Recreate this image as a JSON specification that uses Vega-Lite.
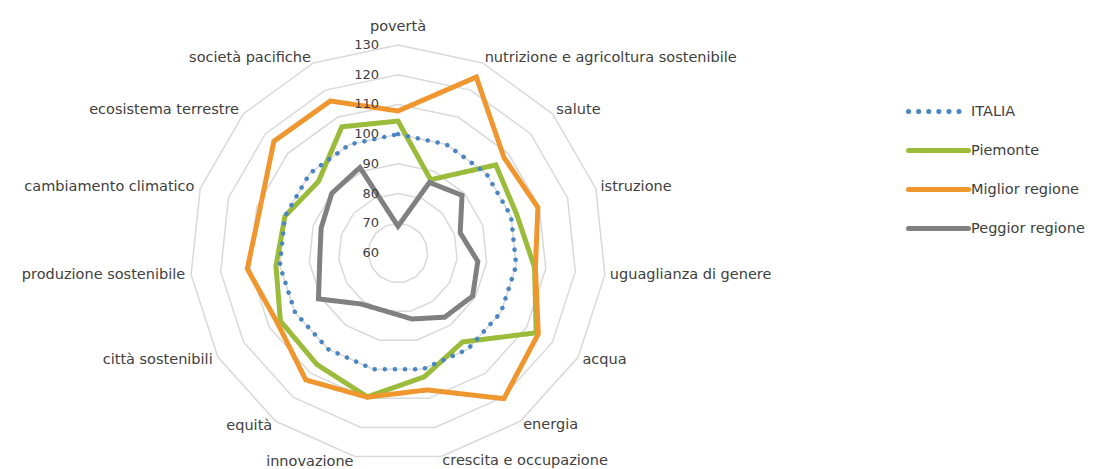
{
  "$schema": "https://vega.github.io/schema/vega-lite/v6.json",
  "width": 1093,
  "height": 469,
  "autosize": {"type": "none"},
  "padding": 0,
  "background": "white",
  "config": {
    "view": {"stroke": null},
    "font": "DejaVu Sans",
    "legend": {"labelFont": "DejaVu Sans"}
  },
  "datasets": {
    "axes": [
      {"a": "povertà", "i": 0},
      {"a": "nutrizione e agricoltura sostenibile", "i": 1},
      {"a": "salute", "i": 2},
      {"a": "istruzione", "i": 3},
      {"a": "uguaglianza di genere", "i": 4},
      {"a": "acqua", "i": 5},
      {"a": "energia", "i": 6},
      {"a": "crescita  e occupazione", "i": 7},
      {"a": "innovazione", "i": 8},
      {"a": "equità", "i": 9},
      {"a": "città sostenibili", "i": 10},
      {"a": "produzione sostenibile", "i": 11},
      {"a": "cambiamento climatico", "i": 12},
      {"a": "ecosistema terrestre", "i": 13},
      {"a": "società pacifiche", "i": 14}
    ],
    "ticks": [
      {"lv": 60}, {"lv": 70}, {"lv": 80}, {"lv": 90}, {"lv": 100}, {"lv": 110}, {"lv": 120}, {"lv": 130}
    ],
    "series": [
      {"s": "ITALIA", "a": "povertà", "v": 100},
      {"s": "ITALIA", "a": "nutrizione e agricoltura sostenibile", "v": 100},
      {"s": "ITALIA", "a": "salute", "v": 100},
      {"s": "ITALIA", "a": "istruzione", "v": 100},
      {"s": "ITALIA", "a": "uguaglianza di genere", "v": 100},
      {"s": "ITALIA", "a": "acqua", "v": 100},
      {"s": "ITALIA", "a": "energia", "v": 100},
      {"s": "ITALIA", "a": "crescita  e occupazione", "v": 100},
      {"s": "ITALIA", "a": "innovazione", "v": 100},
      {"s": "ITALIA", "a": "equità", "v": 100},
      {"s": "ITALIA", "a": "città sostenibili", "v": 100},
      {"s": "ITALIA", "a": "produzione sostenibile", "v": 100},
      {"s": "ITALIA", "a": "cambiamento climatico", "v": 100},
      {"s": "ITALIA", "a": "ecosistema terrestre", "v": 100},
      {"s": "ITALIA", "a": "società pacifiche", "v": 100},

      {"s": "Piemonte", "a": "povertà", "v": 104.4},
      {"s": "Piemonte", "a": "nutrizione e agricoltura sostenibile", "v": 87},
      {"s": "Piemonte", "a": "salute", "v": 104.3},
      {"s": "Piemonte", "a": "istruzione", "v": 102},
      {"s": "Piemonte", "a": "uguaglianza di genere", "v": 106.2},
      {"s": "Piemonte", "a": "acqua", "v": 113.7},
      {"s": "Piemonte", "a": "energia", "v": 97},
      {"s": "Piemonte", "a": "crescita  e occupazione", "v": 102.6},
      {"s": "Piemonte", "a": "innovazione", "v": 109.5},
      {"s": "Piemonte", "a": "equità", "v": 106.4},
      {"s": "Piemonte", "a": "città sostenibili", "v": 105.7},
      {"s": "Piemonte", "a": "produzione sostenibile", "v": 101.3},
      {"s": "Piemonte", "a": "cambiamento climatico", "v": 100},
      {"s": "Piemonte", "a": "ecosistema terrestre", "v": 96},
      {"s": "Piemonte", "a": "società pacifiche", "v": 106.5},

      {"s": "Miglior regione", "a": "povertà", "v": 107.8},
      {"s": "Miglior regione", "a": "nutrizione e agricoltura sostenibile", "v": 124.8},
      {"s": "Miglior regione", "a": "salute", "v": 108},
      {"s": "Miglior regione", "a": "istruzione", "v": 109.5},
      {"s": "Miglior regione", "a": "uguaglianza di genere", "v": 106.5},
      {"s": "Miglior regione", "a": "acqua", "v": 114.5},
      {"s": "Miglior regione", "a": "energia", "v": 120.6},
      {"s": "Miglior regione", "a": "crescita  e occupazione", "v": 107.1},
      {"s": "Miglior regione", "a": "innovazione", "v": 109.6},
      {"s": "Miglior regione", "a": "equità", "v": 112.8},
      {"s": "Miglior regione", "a": "città sostenibili", "v": 106.9},
      {"s": "Miglior regione", "a": "produzione sostenibile", "v": 111},
      {"s": "Miglior regione", "a": "cambiamento climatico", "v": 108.8},
      {"s": "Miglior regione", "a": "ecosistema terrestre", "v": 116.2},
      {"s": "Miglior regione", "a": "società pacifiche", "v": 116},

      {"s": "Peggior regione", "a": "povertà", "v": 69},
      {"s": "Peggior regione", "a": "nutrizione e agricoltura sostenibile", "v": 86},
      {"s": "Peggior regione", "a": "salute", "v": 89},
      {"s": "Peggior regione", "a": "istruzione", "v": 82},
      {"s": "Peggior regione", "a": "uguaglianza di genere", "v": 87},
      {"s": "Peggior regione", "a": "acqua", "v": 89},
      {"s": "Peggior regione", "a": "energia", "v": 86.7},
      {"s": "Peggior regione", "a": "crescita  e occupazione", "v": 82.7},
      {"s": "Peggior regione", "a": "innovazione", "v": 80},
      {"s": "Peggior regione", "a": "equità", "v": 81.2},
      {"s": "Peggior regione", "a": "città sostenibili", "v": 90.9},
      {"s": "Peggior regione", "a": "produzione sostenibile", "v": 86.5},
      {"s": "Peggior regione", "a": "cambiamento climatico", "v": 87.2},
      {"s": "Peggior regione", "a": "ecosistema terrestre", "v": 90},
      {"s": "Peggior regione", "a": "società pacifiche", "v": 91.5}
    ]
  },
  "layer": [
    {
      "data": {"name": "axes"},
      "transform": [
        {"calculate": "[70, 80, 90, 100, 110, 120, 130]", "as": "lv"},
        {"flatten": ["lv"]},
        {"calculate": "(datum.lv - 60) / 70 * 208", "as": "r"},
        {"calculate": "datum.r * sin(datum.i * 2 * PI / 15)", "as": "x"},
        {"calculate": "datum.r * cos(datum.i * 2 * PI / 15)", "as": "y"}
      ],
      "mark": {"type": "line", "interpolate": "linear-closed", "stroke": "#D9D9D9", "strokeWidth": 1.5},
      "encoding": {
        "x": {"field": "x", "type": "quantitative", "scale": {"domain": [-398, 695], "nice": false, "zero": false}, "axis": null},
        "y": {"field": "y", "type": "quantitative", "scale": {"domain": [-216, 253], "nice": false, "zero": false}, "axis": null},
        "detail": {"field": "lv", "type": "nominal"},
        "order": {"field": "i", "type": "quantitative"}
      }
    },
    {
      "data": {"name": "series"},
      "transform": [
        {"filter": "datum.s !== 'ITALIA'"},
        {"lookup": "a", "from": {"data": {"name": "axes"}, "key": "a", "fields": ["i"]}},
        {"calculate": "(datum.v - 60) / 70 * 208", "as": "r"},
        {"calculate": "datum.r * sin(datum.i * 2 * PI / 15)", "as": "x"},
        {"calculate": "datum.r * cos(datum.i * 2 * PI / 15)", "as": "y"}
      ],
      "mark": {"type": "line", "interpolate": "linear-closed", "strokeWidth": 5},
      "encoding": {
        "x": {"field": "x", "type": "quantitative", "scale": {"domain": [-398, 695], "nice": false, "zero": false}, "axis": null},
        "y": {"field": "y", "type": "quantitative", "scale": {"domain": [-216, 253], "nice": false, "zero": false}, "axis": null},
        "color": {
          "field": "s", "type": "nominal",
          "scale": {"domain": ["ITALIA", "Piemonte", "Miglior regione", "Peggior regione"], "range": ["#4A86C4", "#9BBB3A", "#F0962E", "#808080"]},
          "legend": {
            "title": null, "orient": "none", "legendX": 926, "legendY": 99,
            "symbolType": "M-3,0H3", "symbolSize": 400, "symbolStrokeWidth": 5,
            "labelFontSize": 14.5, "labelColor": "#404040", "labelOffset": 20, "rowPadding": 16,
            "encode": {"symbols": {"update": {"strokeCap": {"value": "round"}}}}
          }
        },
        "strokeDash": {
          "field": "s", "type": "nominal",
          "scale": {"domain": ["ITALIA", "Piemonte", "Miglior regione", "Peggior regione"], "range": [[0.1, 10], [1, 0], [1, 0], [1, 0]]},
          "legend": {
            "title": null, "orient": "none", "legendX": 926, "legendY": 99,
            "symbolType": "M-3,0H3", "symbolSize": 400, "symbolStrokeWidth": 5,
            "labelFontSize": 14.5, "labelColor": "#404040", "labelOffset": 20, "rowPadding": 16,
            "encode": {"symbols": {"update": {"strokeCap": {"value": "round"}}}}
          }
        },
        "order": {"field": "i", "type": "quantitative"}
      }
    },
    {
      "data": {"name": "series"},
      "transform": [
        {"filter": "datum.s === 'ITALIA'"},
        {"lookup": "a", "from": {"data": {"name": "axes"}, "key": "a", "fields": ["i"]}},
        {"calculate": "(datum.v - 60) / 70 * 208", "as": "r"},
        {"calculate": "datum.r * sin(datum.i * 2 * PI / 15)", "as": "x"},
        {"calculate": "datum.r * cos(datum.i * 2 * PI / 15)", "as": "y"}
      ],
      "mark": {"type": "line", "interpolate": "linear-closed", "strokeWidth": 4.5, "strokeCap": "round"},
      "encoding": {
        "x": {"field": "x", "type": "quantitative", "axis": null},
        "y": {"field": "y", "type": "quantitative", "axis": null},
        "color": {"field": "s", "type": "nominal"},
        "strokeDash": {"field": "s", "type": "nominal"},
        "order": {"field": "i", "type": "quantitative"}
      }
    },
    {
      "data": {"name": "ticks"},
      "transform": [
        {"calculate": "(datum.lv - 60) / 70 * 208", "as": "y"},
        {"calculate": "-19", "as": "x"}
      ],
      "mark": {"type": "text", "align": "right", "baseline": "middle", "fontSize": 13, "color": "#404040"},
      "encoding": {
        "x": {"field": "x", "type": "quantitative", "axis": null},
        "y": {"field": "y", "type": "quantitative", "axis": null},
        "text": {"field": "lv", "type": "quantitative"}
      }
    },
    {
      "data": {"name": "axes"},
      "transform": [
        {"filter": "datum.i === 0"},
        {"calculate": "0", "as": "x"},
        {"calculate": "219", "as": "y"}
      ],
      "mark": {"type": "text", "align": "center", "baseline": "bottom", "fontSize": 14.5, "color": "#404040"},
      "encoding": {
        "x": {"field": "x", "type": "quantitative", "axis": null},
        "y": {"field": "y", "type": "quantitative", "axis": null},
        "text": {"field": "a", "type": "nominal"}
      }
    },
    {
      "data": {"name": "axes"},
      "transform": [
        {"filter": "datum.i >= 1 && datum.i <= 7"},
        {"calculate": "213 * sin(datum.i * 2 * PI / 15)", "as": "x"},
        {"calculate": "213 * cos(datum.i * 2 * PI / 15)", "as": "y"}
      ],
      "mark": {"type": "text", "align": "left", "baseline": "middle", "fontSize": 14.5, "color": "#404040"},
      "encoding": {
        "x": {"field": "x", "type": "quantitative", "axis": null},
        "y": {"field": "y", "type": "quantitative", "axis": null},
        "text": {"field": "a", "type": "nominal"}
      }
    },
    {
      "data": {"name": "axes"},
      "transform": [
        {"filter": "datum.i >= 8"},
        {"calculate": "214 * sin(datum.i * 2 * PI / 15)", "as": "x"},
        {"calculate": "214 * cos(datum.i * 2 * PI / 15)", "as": "y"}
      ],
      "mark": {"type": "text", "align": "right", "baseline": "middle", "fontSize": 14.5, "color": "#404040"},
      "encoding": {
        "x": {"field": "x", "type": "quantitative", "axis": null},
        "y": {"field": "y", "type": "quantitative", "axis": null},
        "text": {"field": "a", "type": "nominal"}
      }
    }
  ]
}
